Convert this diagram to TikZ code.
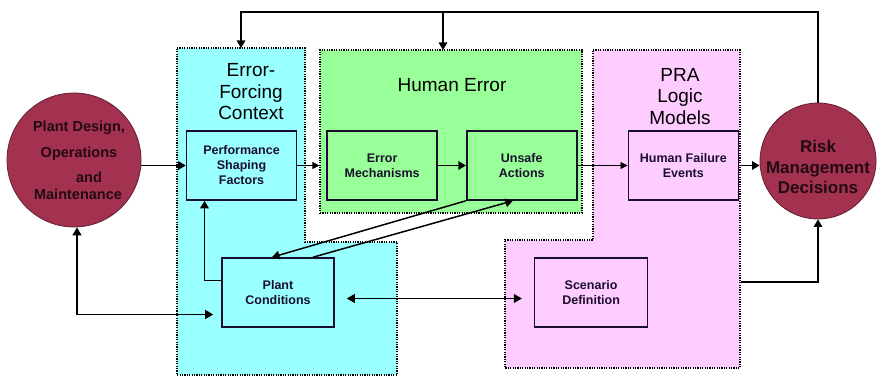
\documentclass[tikz,border=0pt]{standalone}
\usepackage{fontspec}
\setmainfont{Liberation Sans}
\usepackage{tikz}
\usetikzlibrary{arrows.meta, positioning}
\usepackage{xcolor}
\definecolor{zonecyan}{RGB}{153,255,255}
\definecolor{zonegreen}{RGB}{153,255,153}
\definecolor{zonepink}{RGB}{255,204,255}
\definecolor{hubred}{RGB}{163,50,80}
\definecolor{hubtext}{RGB}{35,10,20}
\definecolor{boxnavy}{RGB}{25,15,45}

\begin{document}
\begin{tikzpicture}[
    x=1pt, y=-1pt,
    zone/.style={draw=black, line width=1.2pt, dash pattern=on 1.2pt off 1.2pt},
    box/.style={rectangle, draw=boxnavy, line width=1.6pt, minimum width=110pt, minimum height=69pt, align=center, text=boxnavy, font=\bfseries\fontsize{12.5}{15}\selectfont},
    heading/.style={align=center, font=\fontsize{19}{21.5}\selectfont},
    hub/.style={circle, draw=hubred!60!black, line width=0.8pt, fill=hubred, inner sep=0pt, align=center, text=hubtext},
    arr/.style={-{Triangle[length=7.5pt, width=8.5pt]}, line width=1.5pt},
    thinarr/.style={-{Triangle[length=7pt, width=7pt]}, line width=0.8pt},
    dblarr/.style={{Triangle[length=8pt, width=9pt]}-{Triangle[length=8pt, width=9pt]}, line width=1pt}
]
    \useasboundingbox (0,0) rectangle (877,377);

    \path[zone, fill=zonecyan] (177,48) -- (305,48) -- (305,242) -- (397,242) -- (397,375) -- (177,375) -- cycle;
    \node (greenZone) [zone, fill=zonegreen, minimum width=262pt, minimum height=163pt] at (451,131.5) {};
    \path[zone, fill=zonepink] (593,50) -- (740,50) -- (740,368) -- (505,368) -- (505,240) -- (593,240) -- cycle;

    \coordinate (rail) at (0,12);
    \coordinate (cyanTop) at (241,48);
    \coordinate (greenTop) at (443,50);
    \coordinate (pinkEdge) at (741,282);

    \node (efcTitle) [heading] at (251,92) {Error-\\Forcing\\Context};
    \node (heTitle) [heading] at (452,85) {Human Error};
    \node (praTitle) [heading] at (680,96.5) {PRA\\Logic\\Models};

    \node (psf) [box] at (241.5,165.5) {Performance\\Shaping\\Factors};
    \node (em) [box, right=29pt of psf] {Error\\Mechanisms};
    \node (ua) [box, right=28pt of em] {Unsafe\\Actions};
    \node (hfe) [box, right=50pt of ua] {Human Failure\\Events};
    \node (pc) [box, minimum width=112pt] at (278,292.5) {Plant\\Conditions};
    \node (sd) [box, minimum width=113pt, right=199pt of pc] {Scenario\\Definition};

    \node (plant) [hub, minimum size=134pt, font=\bfseries\fontsize{14.5}{17}\selectfont] at (74,160) {\hspace*{10pt}Plant Design,\\[9pt]\hspace*{10pt}Operations\\[8pt]\hspace*{30pt}and\\\hspace*{8pt}Maintenance};
    \node (risk) [hub, minimum size=116pt, label={[align=center, text=hubtext, font=\bfseries\fontsize{17}{20.5}\selectfont, yshift=-6pt]center:Risk\\Management\\Decisions}] at (818,161) {};

    \draw[arr] (risk.north) -- (risk.north |- rail) -| (cyanTop);
    \draw[arr] (greenTop |- rail) -- (greenTop);
    \draw[arr] (psf.west -| plant.east) -- (psf.west);
    \draw[thinarr] (psf.east) -- (psf.east -| greenZone.west);
    \draw[arr] (em) -- (ua);
    \draw[thinarr] (ua) -- (hfe);
    \draw[arr] (hfe.east) -- (hfe.east -| risk.west);
    \draw[arr] (ua.south west) -- ([xshift=-6pt]pc.north);
    \draw[arr] ([xshift=35pt]pc.north) -- ([xshift=47pt]ua.south west);
    \draw[arr] ([yshift=12pt]pc.west) -| ([xshift=-37pt]psf.south);
    \draw[dblarr, line width=1.5pt, shorten >=8pt] ([xshift=3pt]plant.south) |- ([yshift=-22pt]pc.west);
    \draw[dblarr, shorten <=12pt, shorten >=12pt] ([yshift=-6pt]pc.east) -- ([yshift=-6pt]sd.west);
    \draw[arr] (pinkEdge) -| (risk.south);
\end{tikzpicture}
\end{document}
